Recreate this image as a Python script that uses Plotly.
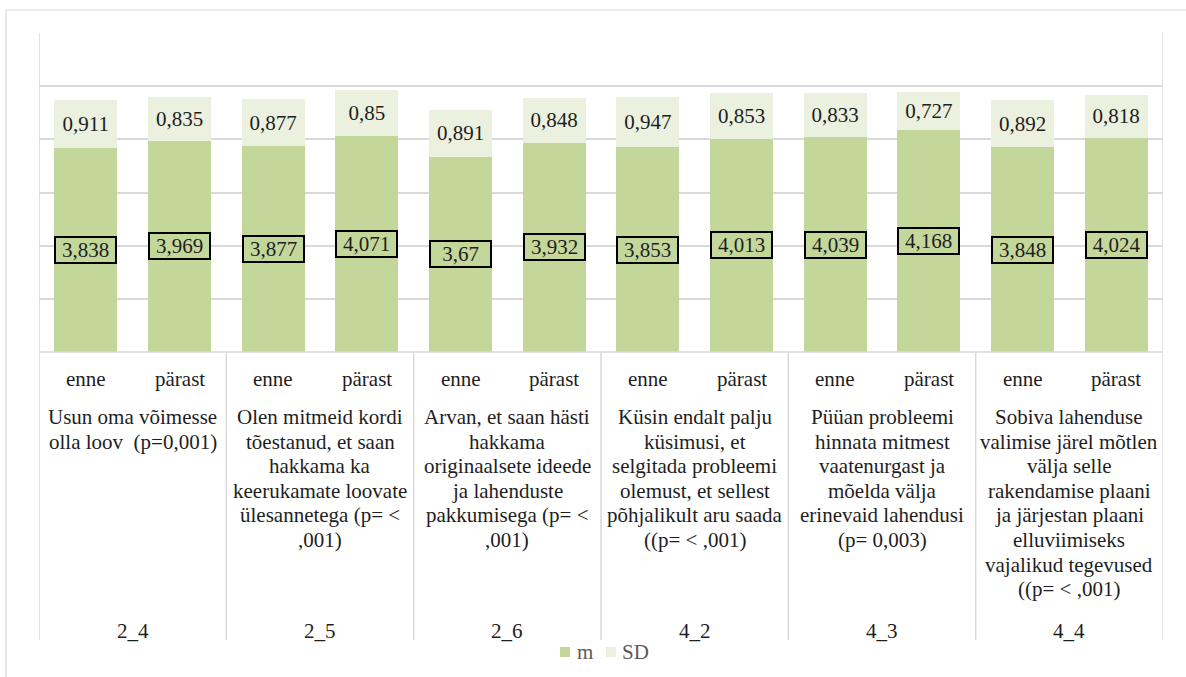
import plotly.graph_objects as go

# data
groups = ["2_4", "2_5", "2_6", "4_2", "4_3", "4_4"]
phases = ["enne", "pärast"]
descriptions = [
    "Usun oma võimesse<br>olla loov  (p=0,001)",
    "Olen mitmeid kordi<br>tõestanud, et saan<br>hakkama ka<br>keerukamate loovate<br>ülesannetega (p= <<br>,001)",
    "Arvan, et saan hästi<br>hakkama<br>originaalsete ideede<br>ja lahenduste<br>pakkumisega (p= <<br>,001)",
    "Küsin endalt palju<br>küsimusi, et<br>selgitada probleemi<br>olemust, et sellest<br>põhjalikult aru saada<br>((p= < ,001)",
    "Püüan probleemi<br>hinnata mitmest<br>vaatenurgast ja<br>mõelda välja<br>erinevaid lahendusi<br>(p= 0,003)",
    "Sobiva lahenduse<br>valimise järel mõtlen<br>välja selle<br>rakendamise plaani<br>ja järjestan plaani<br>elluviimiseks<br>vajalikud tegevused<br>((p= < ,001)",
]
m_values = [3.838, 3.969, 3.877, 4.071, 3.67, 3.932, 3.853, 4.013, 4.039, 4.168, 3.848, 4.024]
sd_values = [0.911, 0.835, 0.877, 0.85, 0.891, 0.848, 0.947, 0.853, 0.833, 0.727, 0.892, 0.818]
series_names = ['m', 'SD']

# colors
m_color = '#c4d79b'
sd_color = '#ebf1de'
grid_color = '#d9d9d9'
text_color = '#1e1e1e'
legend_text_color = '#595959'
font_family = 'Liberation Serif'
font_size = 21
line_step = 24.6  # px between description lines (Excel-like tight leading)

W, H = 1186, 677
L, R, T, B = 39, 23, 33, 325
plot_w = W - L - R
plot_h = H - T - B


def px_x(pixel_x):
    # pixel column -> paper x
    return (pixel_x - L) / plot_w


def py(pixel_y):
    # pixel row -> paper y
    return (H - B - pixel_y) / plot_h


def fmt(v):
    return str(v).replace('.', ',')


x_pos = list(range(len(m_values)))

fig = go.Figure()

fig.add_trace(go.Bar(
    name=series_names[0], x=x_pos, y=m_values, width=0.67,
    marker=dict(color=m_color, line=dict(width=0)),
    hoverinfo='skip', showlegend=False,
))
fig.add_trace(go.Bar(
    name=series_names[1], x=x_pos, y=sd_values, width=0.67,
    marker=dict(color=sd_color, line=dict(width=0)),
    text=[fmt(v) for v in sd_values],
    textposition='inside', insidetextanchor='middle',
    textfont=dict(family=font_family, size=font_size, color=text_color),
    constraintext='none',
    hoverinfo='skip', showlegend=False,
))

annotations = []

# boxed mean labels
for i, v in enumerate(m_values):
    annotations.append(dict(
        x=i, y=v / 2, xref='x', yref='y',
        text=fmt(v), showarrow=False,
        font=dict(family=font_family, size=font_size, color=text_color),
        bgcolor=m_color, bordercolor='black', borderwidth=2, borderpad=0,
        width=59, height=24,
    ))

# category labels
for g in range(len(groups)):
    for k, ph in enumerate(phases):
        annotations.append(dict(
            x=2 * g + k, y=py(379), xref='x', yref='paper',
            text=ph, showarrow=False, yanchor='middle',
            font=dict(family=font_family, size=font_size, color=text_color),
        ))
    for j, line in enumerate(descriptions[g].split('<br>')):
        annotations.append(dict(
            x=2 * g + 0.5, y=py(417 + j * line_step), xref='x', yref='paper',
            text=line, showarrow=False, yanchor='middle',
            font=dict(family=font_family, size=font_size, color=text_color),
        ))
    annotations.append(dict(
        x=2 * g + 0.5, y=py(631), xref='x', yref='paper',
        text=groups[g], showarrow=False, yanchor='middle',
        font=dict(family=font_family, size=font_size, color=text_color),
    ))

shapes = []
line_style = dict(color=grid_color, width=1.5)
# plot frame and group dividers
for xb in [-0.5, 1.5, 3.5, 5.5, 7.5, 9.5, 11.5]:
    top = 1 if xb in (-0.5, 11.5) else 0
    shapes.append(dict(type='line', xref='x', yref='paper',
                       x0=xb, x1=xb, y0=py(640), y1=top, line=line_style))
shapes.append(dict(type='line', xref='paper', yref='paper',
                   x0=0, x1=1, y0=0, y1=0, line=line_style))
# outer chart border
shapes.append(dict(type='rect', xref='paper', yref='paper',
                   x0=px_x(6), x1=px_x(W + 20), y0=py(H + 20), y1=py(10),
                   line=dict(color=grid_color, width=1.2), fillcolor='rgba(0,0,0,0)'))

# legend (drawn by hand to match the compact spacing)
legend_items = [(series_names[0], m_color, 560, 575), (series_names[1], sd_color, 606, 620)]
for name, color, sx, tx in legend_items:
    shapes.append(dict(type='rect', xref='paper', yref='paper',
                       x0=px_x(sx), x1=px_x(sx + 10), y0=py(657), y1=py(647),
                       line=dict(width=0), fillcolor=color))
    annotations.append(dict(
        x=px_x(tx), y=py(652), xref='paper', yref='paper',
        text=name, showarrow=False, xanchor='left', yanchor='middle',
        font=dict(family=font_family, size=font_size, color=legend_text_color),
    ))

fig.update_layout(
    width=W, height=H,
    margin=dict(l=L, r=R, t=T, b=B),
    barmode='stack',
    paper_bgcolor='white', plot_bgcolor='white',
    showlegend=False,
    annotations=annotations,
    shapes=shapes,
)
fig.update_xaxes(
    range=[-0.5, 11.5], showticklabels=False, showgrid=False,
    zeroline=False, showline=False,
)
fig.update_yaxes(
    range=[0, 6], dtick=1, showticklabels=False,
    gridcolor=grid_color, gridwidth=1.5, zeroline=False, showline=False,
)

fig.write_html("out.html", config={'displayModeBar': False},
               post_script="document.body.style.margin='0';")
